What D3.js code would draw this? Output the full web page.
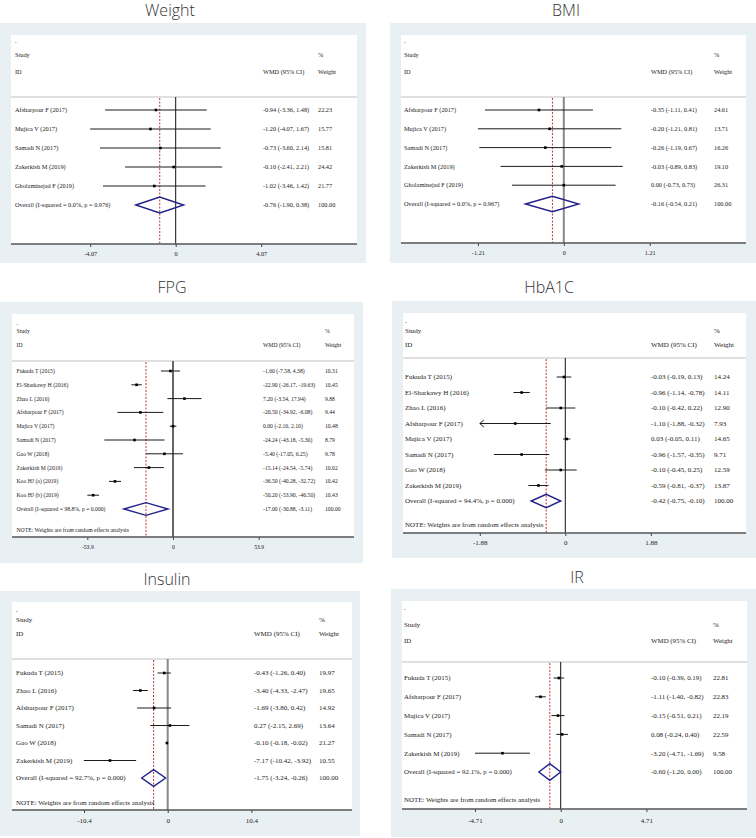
<!DOCTYPE html>
<html><head><meta charset="utf-8">
<script src="https://cdn.jsdelivr.net/npm/d3@7"></script>
<style>body{margin:0;background:#fff}svg{display:block}</style>
</head><body>
<svg id="chart" width="756" height="838"></svg>
<script>
// ---------------- DATA ----------------
const weightStudy = ["Afsharpour F (2017)","Mujica V (2017)","Samadi N (2017)","Zakerkish M (2019)","Gholaminejad F (2019)"];
const weightEst = [-0.94,-1.20,-0.73,-0.10,-1.02];
const weightLo  = [-3.36,-4.07,-3.60,-2.41,-3.46];
const weightHi  = [1.48,1.67,2.14,2.21,1.42];
const weightPct = [22.23,15.77,15.81,24.42,21.77];
const weightOverall = [-0.76,-1.90,0.38];
const weightHet = ["0.0%","0.976"];
const weightTicks = [-4.07,0,4.07];
const weightTickLabels = ["-4.07","0","4.07"];

const bmiStudy = ["Afsharpour F (2017)","Mujica V (2017)","Samadi N (2017)","Zakerkish M (2019)","Gholaminejad F (2019)"];
const bmiEst = [-0.35,-0.20,-0.26,-0.03,0.00];
const bmiLo  = [-1.11,-1.21,-1.19,-0.89,-0.73];
const bmiHi  = [0.41,0.81,0.67,0.83,0.73];
const bmiPct = [24.61,13.71,16.26,19.10,26.31];
const bmiOverall = [-0.16,-0.54,0.21];
const bmiHet = ["0.0%","0.967"];
const bmiTicks = [-1.21,0,1.21];
const bmiTickLabels = ["-1.21","0","1.21"];

const fpgStudy = ["Fukuda T (2015)","El-Sharkawy H (2016)","Zhao L (2016)","Afsharpour F (2017)","Mujica V (2017)","Samadi N (2017)","Gao W (2018)","Zakerkish M (2019)","Koo HJ (a) (2019)","Koo HJ (b) (2019)"];
const fpgEst = [-1.60,-22.90,7.20,-20.50,0.00,-24.24,-5.40,-15.14,-36.50,-50.20];
const fpgLo  = [-7.58,-26.17,-3.54,-34.92,-2.10,-43.18,-17.05,-24.54,-40.28,-53.90];
const fpgHi  = [4.38,-19.63,17.94,-6.08,2.10,-5.30,6.25,-5.74,-32.72,-46.50];
const fpgPct = [10.31,10.45,9.88,9.44,10.48,8.79,9.78,10.02,10.42,10.43];
const fpgOverall = [-17.00,-30.88,-3.11];
const fpgHet = ["98.8%","0.000"];
const fpgTicks = [-53.9,0,53.9];
const fpgTickLabels = ["-53.9","0","53.9"];

const hbaStudy = ["Fukuda T (2015)","El-Sharkawy H (2016)","Zhao L (2016)","Afsharpour F (2017)","Mujica V (2017)","Samadi N (2017)","Gao W (2018)","Zakerkish M (2019)"];
const hbaEst = [-0.03,-0.96,-0.10,-1.10,0.03,-0.96,-0.10,-0.59];
const hbaLo  = [-0.19,-1.14,-0.42,-1.88,-0.05,-1.57,-0.45,-0.81];
const hbaHi  = [0.13,-0.78,0.22,-0.32,0.11,-0.35,0.25,-0.37];
const hbaPct = [14.24,14.11,12.90,7.93,14.65,9.71,12.59,13.87];
const hbaOverall = [-0.42,-0.75,-0.10];
const hbaHet = ["94.4%","0.000"];
const hbaTicks = [-1.88,0,1.88];
const hbaTickLabels = ["-1.88","0","1.88"];
const hbaClipped = ["Afsharpour F (2017)"];

const insStudy = ["Fukuda T (2015)","Zhao L (2016)","Afsharpour F (2017)","Samadi N (2017)","Gao W (2018)","Zakerkish M (2019)"];
const insEst = [-0.43,-3.40,-1.69,0.27,-0.10,-7.17];
const insLo  = [-1.26,-4.33,-3.80,-2.15,-0.18,-10.42];
const insHi  = [0.40,-2.47,0.42,2.69,-0.02,-3.92];
const insPct = [19.97,19.65,14.92,13.64,21.27,10.55];
const insOverall = [-1.75,-3.24,-0.26];
const insHet = ["92.7%","0.000"];
const insTicks = [-10.4,0,10.4];
const insTickLabels = ["-10.4","0","10.4"];

const irStudy = ["Fukuda T (2015)","Afsharpour F (2017)","Mujica V (2017)","Samadi N (2017)","Zakerkish M (2019)"];
const irEst = [-0.10,-1.11,-0.15,0.08,-3.20];
const irLo  = [-0.39,-1.40,-0.51,-0.24,-4.71];
const irHi  = [0.19,-0.82,0.21,0.40,-1.69];
const irPct = [22.81,22.83,22.19,22.59,9.58];
const irOverall = [-0.60,-1.20,0.00];
const irHet = ["92.1%","0.000"];
const irTicks = [-4.71,0,4.71];
const irTickLabels = ["-4.71","0","4.71"];

const noteText = "NOTE: Weights are from random effects analysis";

// ---------------- LAYOUT ----------------
const panels = [
  {title:"Weight", tx:170, ty:16, outer:[0,23,366,240], inner:[11,35,346,209], axisY:244,
   xr:[90.2,261.2], textX:15, wmdX:263, pctX:318, dotY:41, studyY:55, idY:72, sepY:97,
   row0:110, rowO:205, fs:6.3, dh:8, zeroW:1, zeroC:"#111", labOff:10,
   study:weightStudy, est:weightEst, lo:weightLo, hi:weightHi, pct:weightPct, ov:weightOverall, het:weightHet, ticks:weightTicks, tickLabels:weightTickLabels, clipped:[], note:false},
  {title:"BMI", tx:566, ty:16, outer:[390,23,366,240], inner:[401,35,345,208], axisY:243,
   xr:[477.9,649.7], textX:404, wmdX:651, pctX:714, dotY:41, studyY:55, idY:72, sepY:97,
   row0:110, rowO:204, fs:6.3, dh:7.7, zeroW:2, zeroC:"#888", labOff:10,
   study:bmiStudy, est:bmiEst, lo:bmiLo, hi:bmiHi, pct:bmiPct, ov:bmiOverall, het:bmiHet, ticks:bmiTicks, tickLabels:bmiTickLabels, clipped:[], note:false},
  {title:"FPG", tx:172, ty:293, outer:[0,302,363,261], inner:[12,314,342,223], axisY:537,
   xr:[87.3,258.7], textX:16.5, wmdX:263, pctX:325, dotY:323, studyY:331, idY:345, sepY:361,
   row0:371, rowO:509, noteY:530, fs:5.7, dh:6.3, zeroW:1.5, zeroC:"#333", labOff:10,
   study:fpgStudy, est:fpgEst, lo:fpgLo, hi:fpgHi, pct:fpgPct, ov:fpgOverall, het:fpgHet, ticks:fpgTicks, tickLabels:fpgTickLabels, clipped:[], note:true},
  {title:"HbA1C", tx:549, ty:293, outer:[392,301,364,257], inner:[403,313,343,220], axisY:533,
   xr:[479.8,650.8], textX:405, wmdX:651, pctX:714, dotY:321, studyY:331, idY:345, sepY:358,
   row0:377, rowO:501, noteY:525, fs:7.0, dh:6.7, zeroW:1, zeroC:"#111", labOff:9,
   study:hbaStudy, est:hbaEst, lo:hbaLo, hi:hbaHi, pct:hbaPct, ov:hbaOverall, het:hbaHet, ticks:hbaTicks, tickLabels:hbaTickLabels, clipped:hbaClipped, note:true},
  {title:"Insulin", tx:167, ty:585, outer:[0,591,360,245], inner:[12,602,340,208], axisY:810,
   xr:[84,251.4], textX:16, wmdX:254, pctX:319, dotY:610, studyY:620, idY:634, sepY:659,
   row0:673, rowO:778, noteY:803, fs:7.0, dh:8.3, zeroW:2, zeroC:"#888", labOff:10,
   study:insStudy, est:insEst, lo:insLo, hi:insHi, pct:insPct, ov:insOverall, het:insHet, ticks:insTicks, tickLabels:insTickLabels, clipped:[], note:true},
  {title:"IR", tx:577, ty:583, outer:[391,589,365,248], inner:[402,601,345,208], axisY:809,
   xr:[475,646.4], textX:404, wmdX:651, pctX:713, dotY:608, studyY:625, idY:641, sepY:662,
   row0:678, rowO:772, noteY:800, fs:6.9, dh:8.3, zeroW:1, zeroC:"#111", labOff:11,
   study:irStudy, est:irEst, lo:irLo, hi:irHi, pct:irPct, ov:irOverall, het:irHet, ticks:irTicks, tickLabels:irTickLabels, clipped:[], note:true}
];

const svg = d3.select("#chart");
const f2 = v => v.toFixed(2);
const serif = "'Liberation Serif','Times New Roman',serif";

function drawPanel(p) {
  const g = svg.append("g");
  g.append("rect").attr("x",p.outer[0]).attr("y",p.outer[1]).attr("width",p.outer[2]).attr("height",p.outer[3]).attr("fill","#e9f0f3");
  g.append("rect").attr("x",p.inner[0]).attr("y",p.inner[1]).attr("width",p.inner[2]).attr("height",p.inner[3]).attr("fill","#ffffff");
  g.append("text").attr("x",p.tx).attr("y",p.ty).attr("text-anchor","middle")
    .style("font-family","'Open Sans',sans-serif").style("font-weight",300).style("font-size","16px").attr("fill","#333").text(p.title);

  const x = d3.scaleLinear().domain([p.ticks[0], p.ticks[2]]).range(p.xr);
  const n = p.study.length;
  const y = d3.scaleLinear().domain([0, n]).range([p.row0, p.rowO]);
  const txt = (xx, yy, s) => g.append("text").attr("x",xx).attr("y",yy).attr("dy","0.35em")
      .style("font-family",serif).style("font-size",p.fs+"px").attr("fill","#222").text(s);

  // header
  txt(p.textX, p.dotY, ".");
  txt(p.textX, p.studyY, "Study");
  txt(p.textX, p.idY, "ID");
  txt(p.wmdX, p.idY, "WMD (95% CI)");
  txt(p.pctX, p.studyY, "%");
  txt(p.pctX, p.idY, "Weight");
  g.append("line").attr("x1",p.inner[0]).attr("x2",p.inner[0]+p.inner[2]).attr("y1",p.sepY).attr("y2",p.sepY)
    .attr("stroke","#d6d6d6").attr("stroke-width",1.5);

  // reference lines
  g.append("line").attr("x1",x(0)).attr("x2",x(0)).attr("y1",p.sepY).attr("y2",p.axisY)
    .attr("stroke",p.zeroC).attr("stroke-width",p.zeroW);
  g.append("line").attr("x1",x(p.ov[0])).attr("x2",x(p.ov[0])).attr("y1",p.sepY+1).attr("y2",p.axisY)
    .attr("stroke","#b22222").attr("stroke-width",0.9).attr("stroke-dasharray","2,1.5");

  // studies
  p.study.forEach((s, i) => {
    const yy = y(i);
    const clipped = p.clipped.indexOf(s) >= 0;
    const x1 = x(p.lo[i]);
    g.append("line").attr("x1",x1).attr("x2",x(p.hi[i])).attr("y1",yy).attr("y2",yy)
      .attr("stroke","#1a1a1a").attr("stroke-width",1);
    if (clipped) {
      g.append("path").attr("d",`M${x1+4},${yy-3.5}L${x1},${yy}L${x1+4},${yy+3.5}`)
        .attr("fill","none").attr("stroke","#1a1a1a").attr("stroke-width",1);
    }
    g.append("rect").attr("x",x(p.est[i])-1.3).attr("y",yy-1.3).attr("width",2.6).attr("height",2.6).attr("fill","#000");
    txt(p.textX, yy, s);
    txt(p.wmdX, yy, `${f2(p.est[i])} (${f2(p.lo[i])}, ${f2(p.hi[i])})`);
    txt(p.pctX, yy, f2(p.pct[i]));
  });

  // overall
  const yo = y(n);
  g.append("path")
    .attr("d",`M${x(p.ov[1])},${yo}L${x(p.ov[0])},${yo-p.dh}L${x(p.ov[2])},${yo}L${x(p.ov[0])},${yo+p.dh}Z`)
    .attr("fill","none").attr("stroke","#22228a").attr("stroke-width",1.4);
  txt(p.textX, yo, `Overall  (I-squared = ${p.het[0]}, p = ${p.het[1]})`);
  txt(p.wmdX, yo, `${f2(p.ov[0])} (${f2(p.ov[1])}, ${f2(p.ov[2])})`);
  txt(p.pctX, yo, f2(100));
  if (p.note) txt(p.textX, p.noteY, noteText);

  // axis
  const ax = g.append("g").attr("transform",`translate(0,${p.axisY})`)
    .call(d3.axisBottom(x).tickValues(p.ticks).tickFormat((d,i)=>p.tickLabels[i]).tickSize(3).tickSizeOuter(0).tickPadding(p.labOff-5));
  ax.select(".domain").remove();
  ax.selectAll(".tick line").attr("stroke","#444");
  ax.selectAll(".tick text").style("font-family",serif).style("font-size",p.fs+"px").attr("fill","#222");
  g.append("line").attr("x1",p.inner[0]).attr("x2",p.inner[0]+p.inner[2]).attr("y1",p.axisY).attr("y2",p.axisY)
    .attr("stroke","#555").attr("stroke-width",1.3);
}

panels.forEach(drawPanel);
</script>
</body></html>
